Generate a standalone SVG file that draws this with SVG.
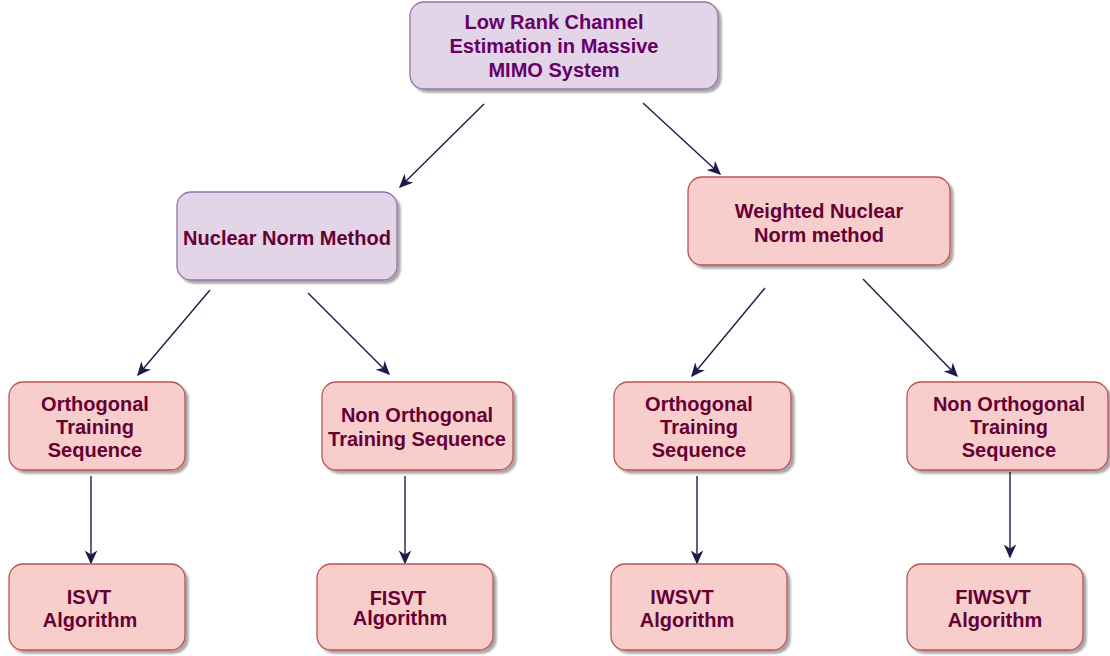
<svg xmlns="http://www.w3.org/2000/svg" width="1110" height="656" viewBox="0 0 1110 656">
  <defs>
    <marker id="arrow" viewBox="0 0 10 10" refX="9" refY="5" markerWidth="14" markerHeight="14" markerUnits="userSpaceOnUse" orient="auto">
      <path d="M0,0.5 L10,5 L0,9.5 L3,5 Z" fill="#1c1c4a"/>
    </marker>
    <filter id="shadow" x="-10%" y="-10%" width="125%" height="130%">
      <feGaussianBlur in="SourceAlpha" stdDeviation="1.2"/>
      <feOffset dx="3" dy="3" result="o"/>
      <feComponentTransfer><feFuncA type="linear" slope="0.35"/></feComponentTransfer>
      <feMerge><feMergeNode/><feMergeNode in="SourceGraphic"/></feMerge>
    </filter>
  </defs>
  <style>
    .purple { fill: #e1d5e7; stroke: #9673a6; stroke-width: 1.3; filter: url(#shadow); }
    .red { fill: #f8cecc; stroke: #b85450; stroke-width: 1.3; filter: url(#shadow); }
    text { font-family: "Liberation Sans", Arial, sans-serif; font-weight: bold; font-size: 20px; text-anchor: middle; }
    .tp { fill: #660066; }
    .tr { fill: #660033; }
    .edge { stroke: #1c1c4a; stroke-width: 1.4; fill: none; marker-end: url(#arrow); }
  </style>
  <rect width="1110" height="656" fill="#ffffff"/>

  <g id="connectors">
    <line class="edge" x1="484" y1="104" x2="400" y2="187"/>
    <line class="edge" x1="643" y1="103" x2="720" y2="174"/>
    <line class="edge" x1="210" y1="290" x2="138" y2="375"/>
    <line class="edge" x1="308" y1="293" x2="389" y2="374"/>
    <line class="edge" x1="765" y1="288" x2="692" y2="376"/>
    <line class="edge" x1="863" y1="279" x2="957" y2="376"/>
    <line class="edge" x1="91" y1="476" x2="91" y2="563"/>
    <line class="edge" x1="405" y1="476" x2="405" y2="563"/>
    <line class="edge" x1="697" y1="476" x2="697" y2="563"/>
    <line class="edge" x1="1010" y1="472" x2="1010" y2="557"/>
  </g>

  <g id="root">
    <rect class="purple" x="410" y="2" width="308" height="87" rx="14"/>
    <text class="tp" x="554" y="29">Low Rank Channel</text>
    <text class="tp" x="554" y="53">Estimation in Massive</text>
    <text class="tp" x="554" y="77">MIMO System</text>
  </g>

  <g id="nuclear-norm">
    <rect class="purple" x="177" y="192" width="220" height="88" rx="14"/>
    <text class="tr" x="287" y="245">Nuclear Norm Method</text>
  </g>

  <g id="weighted-nuclear-norm">
    <rect class="red" x="688" y="177" width="262" height="88" rx="14"/>
    <text class="tr" x="819" y="218">Weighted Nuclear</text>
    <text class="tr" x="819" y="242">Norm method</text>
  </g>

  <g id="orthogonal-1">
    <rect class="red" x="9" y="382" width="176" height="88" rx="14"/>
    <text class="tr" x="95" y="411">Orthogonal</text>
    <text class="tr" x="95" y="434">Training</text>
    <text class="tr" x="95" y="457">Sequence</text>
  </g>

  <g id="non-orthogonal-1">
    <rect class="red" x="322" y="382" width="191" height="88" rx="14"/>
    <text class="tr" x="417" y="422">Non Orthogonal</text>
    <text class="tr" x="417" y="446">Training Sequence</text>
  </g>

  <g id="orthogonal-2">
    <rect class="red" x="614" y="382" width="177" height="88" rx="14"/>
    <text class="tr" x="699" y="411">Orthogonal</text>
    <text class="tr" x="699" y="434">Training</text>
    <text class="tr" x="699" y="457">Sequence</text>
  </g>

  <g id="non-orthogonal-2">
    <rect class="red" x="907" y="382" width="201" height="88" rx="14"/>
    <text class="tr" x="1009" y="411">Non Orthogonal</text>
    <text class="tr" x="1009" y="434">Training</text>
    <text class="tr" x="1009" y="457">Sequence</text>
  </g>

  <g id="isvt">
    <rect class="red" x="9" y="564" width="176" height="86" rx="14"/>
    <text class="tr" x="89" y="604">ISVT</text>
    <text class="tr" x="90" y="627">Algorithm</text>
  </g>

  <g id="fisvt">
    <rect class="red" x="317" y="564" width="176" height="86" rx="14"/>
    <text class="tr" x="398" y="605">FISVT</text>
    <text class="tr" x="400" y="625">Algorithm</text>
  </g>

  <g id="iwsvt">
    <rect class="red" x="611" y="564" width="176" height="86" rx="14"/>
    <text class="tr" x="682" y="604">IWSVT</text>
    <text class="tr" x="687" y="627">Algorithm</text>
  </g>

  <g id="fiwsvt">
    <rect class="red" x="907" y="564" width="176" height="86" rx="14"/>
    <text class="tr" x="993" y="604">FIWSVT</text>
    <text class="tr" x="995" y="627">Algorithm</text>
  </g>
</svg>
